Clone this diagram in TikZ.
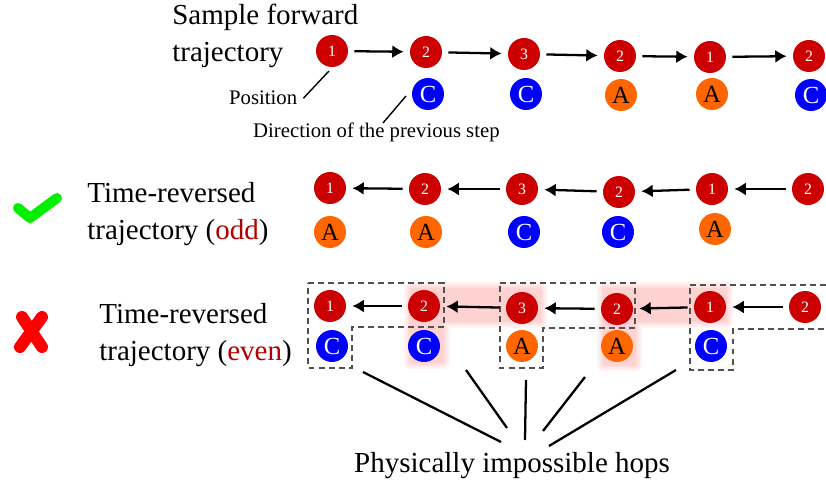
\documentclass[tikz,border=0pt]{standalone}
\usepackage{fontspec}
\setmainfont{Liberation Serif}
\usetikzlibrary{arrows.meta}
\begin{document}
\begin{tikzpicture}[x=0.02cm, y=-0.02cm,
  site/.style={circle, fill=posred, text=white, minimum size=0.64cm, inner sep=0pt, font=\fontsize{9}{9}\selectfont},
  dirc/.style={circle, fill=dirblue, text=white, minimum size=0.64cm, inner sep=0pt, font=\fontsize{14}{14}\selectfont},
  dira/.style={dirc, fill=dirorange, text=black},
  move/.style={-{Latex[length=6.5pt, width=7.5pt]}, line width=1.3pt, shorten <=0.12cm, shorten >=0.12cm},
  pointer/.style={line width=0.8pt},
  fan/.style={line width=1.3pt},
  lbl/.style={align=left, inner sep=0pt, anchor=north west, font=\fontsize{16.5}{21}\selectfont},
  note/.style={anchor=base west, font=\fontsize{11.8}{14}\selectfont},
  slot/.style={draw=boxgray, line width=0.75pt, dash pattern=on 3.4pt off 2.3pt},
  glow/.style={draw=glowpink, fill=none, line join=round}]
\definecolor{posred}{HTML}{CC0000}
\definecolor{dirblue}{HTML}{0000FF}
\definecolor{dirorange}{HTML}{FF6600}
\definecolor{oddred}{HTML}{B00000}
\definecolor{boxgray}{HTML}{505050}
\definecolor{glowpink}{HTML}{FFD2D2}
\definecolor{okgreen}{HTML}{00F000}
\definecolor{badred}{HTML}{FF0000}
\useasboundingbox (0,0) rectangle (826,489);

\foreach \w/\o in {6.8/0.25, 4.5/0.35, 2.3/0.5}
  \draw[glow, line width=\w pt, opacity=\o] (410,288) -- (541,288) -- (541,322) -- (444,322) -- (444,363) -- (410,363) -- cycle (603,288) -- (727,288) -- (727,322) -- (636,322) -- (636,365) -- (603,365) -- cycle;
\fill[glowpink] (410,288) -- (541,288) -- (541,322) -- (444,322) -- (444,363) -- (410,363) -- cycle (603,288) -- (727,288) -- (727,322) -- (636,322) -- (636,365) -- (603,365) -- cycle;

\draw[slot] (308,283) -- (444,283) -- (444,327) -- (352,327) -- (352,368) -- (308,368) -- cycle;
\draw[slot] (500,283) -- (635,283) -- (635,328) -- (543,328) -- (543,368) -- (500,368) -- cycle;
\draw[slot] (690,285) -- (860,285) -- (860,329) -- (733,329) -- (733,370) -- (690,370) -- cycle;

\node[lbl] (fwdlbl) at (172,3.4) {Sample forward\\trajectory};
\node[site] (f1) at (332,51) {1};
\node[site] (f2) at (426,52) {2};
\node[site] (f3) at (524,54) {3};
\node[site] (f4) at (620,56) {2};
\node[site] (f5) at (710,57) {1};
\node[site] (f6) at (809,56) {2};
\node[dirc] (fd2) at (428,94) {C};
\node[dirc] (fd3) at (526,94) {C};
\node[dira] (fd4) at (621,95) {A};
\node[dira] (fd5) at (712,94) {A};
\node[dirc] (fd6) at (811,95) {C};
\draw[move] (f1) -- (f2);
\draw[move] (f2) -- (f3);
\draw[move] (f3) -- (f4);
\draw[move] (f4) -- (f5);
\draw[move] (f5) -- (f6);
\node[note] (poslbl) at (223,105) {Position};
\node[note] (dirlbl) at (247,138) {Direction of the previous step};
\coordinate (posend) at (329,71);
\coordinate (dirfrom) at (383,123);
\coordinate (dirto) at (406,96);
\draw[pointer] (poslbl.east) -- (posend);
\draw[pointer] (dirfrom) -- (dirto);

\draw[okgreen, line width=5.7pt, line cap=round, line join=round] (18,208) -- (30,218) -- (57,198);
\node[lbl] (oddlbl) at (87,182) {Time-reversed\\trajectory (\textcolor{oddred}{odd})};
\node[site] (o1) at (330,188) {1};
\node[site] (o2) at (425,189) {2};
\node[site] (o3) at (522,189) {3};
\node[site] (o4) at (619,192) {2};
\node[site] (o5) at (712,189) {1};
\node[site] (o6) at (808,189) {2};
\node[dira] (od1) at (330,232) {A};
\node[dira] (od2) at (426,232) {A};
\node[dirc] (od3) at (524,232) {C};
\node[dirc] (od4) at (618,232) {C};
\node[dira] (od5) at (715,229) {A};
\draw[move] (o2) -- (o1);
\draw[move] (o3) -- (o2);
\draw[move] (o4) -- (o3);
\draw[move] (o5) -- (o4);
\draw[move] (o6) -- (o5);

\draw[badred, line width=6.8pt, line cap=round] (22,317) -- (42,347) (42,317) -- (20,347);
\node[lbl] (evenlbl) at (99,303) {Time-reversed\\trajectory (\textcolor{oddred}{even})};
\node[site] (e1) at (330,306) {1};
\node[site] (e2) at (424,306) {2};
\node[site] (e3) at (522,308) {3};
\node[site] (e4) at (617,309) {2};
\node[site] (e5) at (710,307) {1};
\node[site] (e6) at (805,307) {2};
\node[dirc] (ed1) at (332,346) {C};
\node[dirc] (ed2) at (424,346) {C};
\node[dira] (ed3) at (522,346) {A};
\node[dira] (ed4) at (617,346) {A};
\node[dirc] (ed5) at (711,346) {C};
\draw[move] (e2) -- (e1);
\draw[move] (e3) -- (e2);
\draw[move] (e4) -- (e3);
\draw[move] (e5) -- (e4);
\draw[move] (e6) -- (e5);

\node[note, font=\fontsize{16.5}{21}\selectfont] (hops) at (348,473) {Physically impossible hops};
\coordinate (s1) at (363,372); \coordinate (t1) at (501,442);
\coordinate (s2) at (466,370); \coordinate (t2) at (507,428);
\coordinate (s3) at (526,380); \coordinate (t3) at (525,440);
\coordinate (s4) at (585,377); \coordinate (t4) at (543,431);
\coordinate (s5) at (676,370); \coordinate (t5) at (549,446);
\foreach \i in {1,...,5}
  \draw[fan] (s\i) -- (t\i);
\end{tikzpicture}
\end{document}
